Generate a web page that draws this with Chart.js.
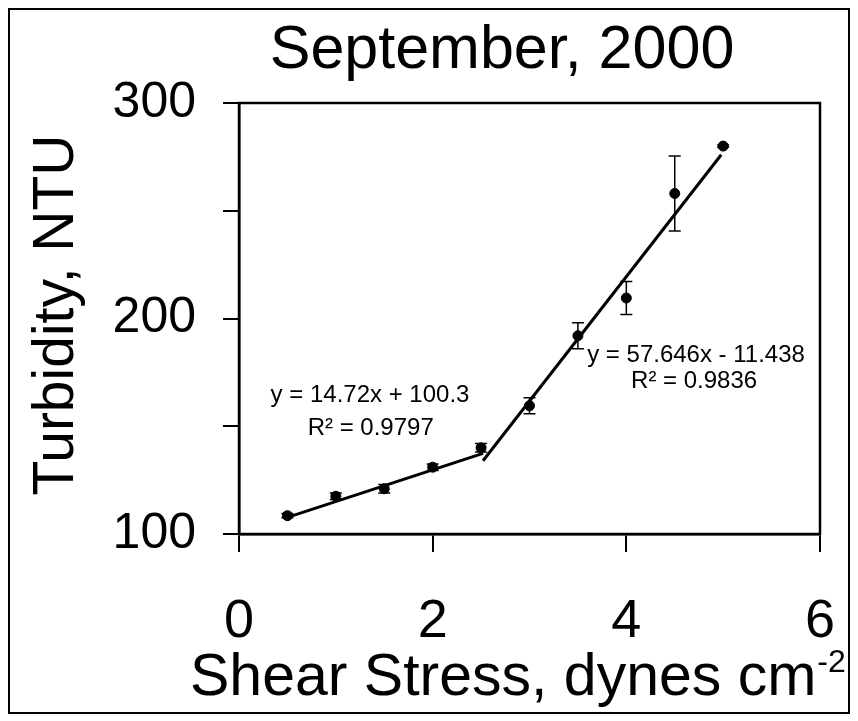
<!DOCTYPE html>
<html>
<head>
<meta charset="utf-8">
<script src="https://cdn.jsdelivr.net/npm/chart.js@4"></script>
<style>
  html, body { margin: 0; padding: 0; background: #fff; }
  canvas { display: block; }
</style>
</head>
<body>
<canvas id="turbChart" width="858" height="721"></canvas>
<script>
// shear stress (dynes cm-2) and measured turbidity (NTU)
const shearStress = [0.5, 1, 1.5, 2, 2.5, 3, 3.5, 4, 4.5, 5];
const turbidity = [108.5, 117.5, 121, 131, 140, 159.5, 192, 209.5, 258, 280];
const turbidityErr = [1, 1.5, 2, 1.5, 2, 3.7, 6, 7.7, 17.4, 0.5];

// trend line end points as drawn
const fitLowX = [0.5, 2.52];
const fitLowY = [107.7, 137.4];
const fitHighX = [2.52, 4.98];
const fitHighY = [134, 276];

const yLabelTicks = [100, 200, 300];
const eqLow = ["y = 14.72x + 100.3", "R² = 0.9797"];
const eqHigh = ["y = 57.646x - 11.438", "R² = 0.9836"];

const FONT = '"Liberation Sans", Arial, sans-serif';

const toPoints = (xs, ys) => xs.map((x, i) => ({ x: x, y: ys[i] }));

// frame, plot box, titles, error bars and equations
const decor = {
    id: "decor",
    beforeDatasetsDraw(chart) {
        const ctx = chart.ctx;
        const xs = chart.scales.x, ys = chart.scales.y;
        ctx.save();
        ctx.strokeStyle = "#000";
        ctx.lineWidth = 1.5;
        shearStress.forEach((x, i) => {
            const px = xs.getPixelForValue(x);
            const top = ys.getPixelForValue(turbidity[i] + turbidityErr[i]);
            const bot = ys.getPixelForValue(turbidity[i] - turbidityErr[i]);
            ctx.beginPath();
            ctx.moveTo(px, top); ctx.lineTo(px, bot);
            ctx.moveTo(px - 6, top); ctx.lineTo(px + 6, top);
            ctx.moveTo(px - 6, bot); ctx.lineTo(px + 6, bot);
            ctx.stroke();
        });
        ctx.restore();
    },
    afterDraw(chart) {
        const ctx = chart.ctx;
        const a = chart.chartArea;
        const xs = chart.scales.x, ys = chart.scales.y;
        ctx.save();
        ctx.strokeStyle = "#000";
        ctx.fillStyle = "#000";

        // outer frame
        ctx.lineWidth = 2;
        ctx.strokeRect(9, 9, 840, 704);

        // plot box
        ctx.lineWidth = 2.5;
        ctx.strokeRect(a.left, a.top, a.right - a.left, a.bottom - a.top);

        // chart title
        ctx.textAlign = "center";
        ctx.textBaseline = "alphabetic";
        ctx.font = "61px " + FONT;
        ctx.fillText("September, 2000", 502, 68);

        // y axis title
        ctx.save();
        ctx.translate(73, 315);
        ctx.rotate(-Math.PI / 2);
        ctx.font = "57px " + FONT;
        ctx.fillText("Turbidity, NTU", 0, 0);
        ctx.restore();

        // x axis title with superscript
        ctx.textAlign = "left";
        ctx.font = "59px " + FONT;
        const main = "Shear Stress, dynes cm";
        ctx.fillText(main, 190, 695);
        const w = ctx.measureText(main).width;
        ctx.font = "32px " + FONT;
        ctx.fillText("-2", 190 + w + 1, 672);

        // regression equations
        ctx.textAlign = "center";
        ctx.font = "24px " + FONT;
        ctx.fillText(eqLow[0], xs.getPixelForValue(1.353), ys.getPixelForValue(161.3));
        ctx.fillText(eqLow[1], xs.getPixelForValue(1.36), ys.getPixelForValue(145.9));
        ctx.fillText(eqHigh[0], xs.getPixelForValue(4.72), ys.getPixelForValue(179.8));
        ctx.fillText(eqHigh[1], xs.getPixelForValue(4.70), ys.getPixelForValue(167.7));
        ctx.restore();
    }
};

new Chart(document.getElementById("turbChart"), {
    type: "scatter",
    data: {
        datasets: [
            {
                label: "Turbidity",
                data: toPoints(shearStress, turbidity),
                backgroundColor: "#000",
                borderColor: "#000",
                pointRadius: 5,
                showLine: false
            },
            {
                label: "Fit low",
                data: toPoints(fitLowX, fitLowY),
                borderColor: "#000",
                borderWidth: 3,
                pointRadius: 0,
                showLine: true
            },
            {
                label: "Fit high",
                data: toPoints(fitHighX, fitHighY),
                borderColor: "#000",
                borderWidth: 3,
                pointRadius: 0,
                showLine: true
            }
        ]
    },
    options: {
        responsive: false,
        animation: false,
        events: [],
        layout: { padding: { top: 103, right: 38, left: 0, bottom: 0 } },
        plugins: {
            legend: { display: false },
            title: { display: false },
            tooltip: { enabled: false }
        },
        scales: {
            x: {
                type: "linear",
                min: 0,
                max: 6,
                ticks: {
                    stepSize: 2,
                    color: "#000",
                    padding: 38,
                    maxRotation: 0,
                    font: { family: FONT, size: 54 }
                },
                grid: {
                    drawOnChartArea: false,
                    drawTicks: true,
                    tickLength: 18,
                    color: "#000",
                    lineWidth: 2
                },
                border: { display: true, color: "#000", width: 2.5 },
                afterFit(scale) {
                    scale.height = 721 - 534;
                    scale.paddingLeft = 0;
                    scale.paddingRight = 0;
                }
            },
            y: {
                min: 100,
                max: 300,
                ticks: {
                    stepSize: 50,
                    color: "#000",
                    padding: 27,
                    font: { family: FONT, size: 50 },
                    callback: v => yLabelTicks.includes(v) ? v : ""
                },
                grid: {
                    drawOnChartArea: false,
                    drawTicks: true,
                    tickLength: 16,
                    color: "#000",
                    lineWidth: 2
                },
                border: { display: true, color: "#000", width: 2.5 },
                afterFit(scale) {
                    scale.width = 239;
                    scale.paddingTop = 0;
                    scale.paddingBottom = 0;
                }
            }
        }
    },
    plugins: [decor]
});
</script>
</body>
</html>
